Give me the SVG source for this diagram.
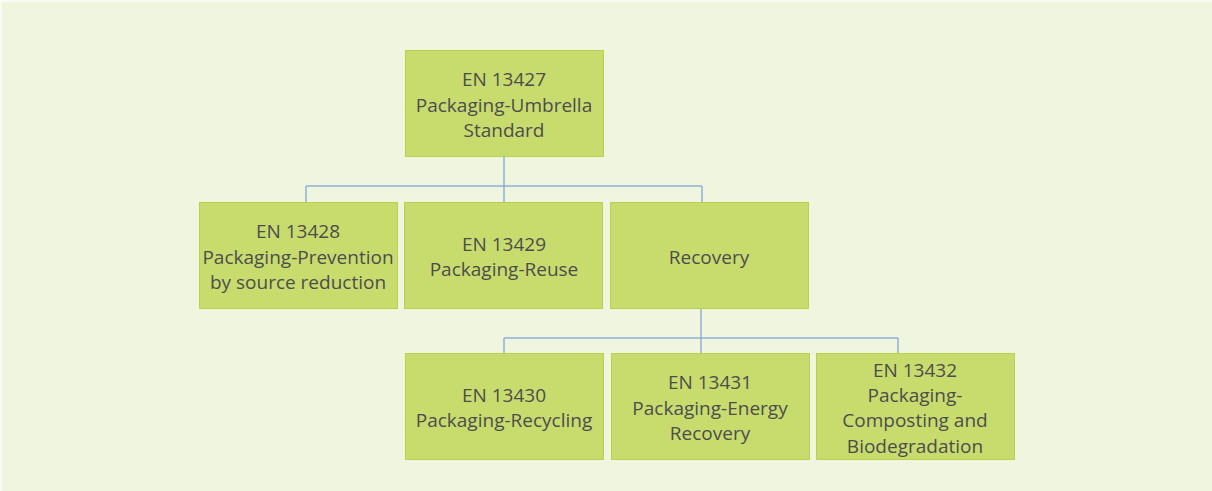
<svg xmlns="http://www.w3.org/2000/svg" width="1212" height="491" viewBox="0 0 1212 491">
<style>
.bg{fill:#eff5de}
.box{fill:#c8dc6e;stroke:#b9d24a;stroke-width:1}
.t{font-family:"Open Sans","Noto Sans",sans-serif;font-size:19px;fill:#4d4d4d;text-anchor:middle}
.c{stroke:#8fb1da;stroke-width:1.5;fill:none}
</style>
<rect width="1212" height="491" fill="#fafcf4"/>
<rect class="bg" x="2" y="2" width="1210" height="489"/>
<g id="connectors">
<path class="c" d="M504 157V186M306 186H702M306 186V202M504 186V202M702 186V202"/>
<path class="c" d="M701 308V338M504 338H898M504 338V353M701 338V353M898 338V353"/>
</g>
<g id="n13427"><rect class="box" x="405.5" y="50.5" width="198" height="106"/>
<text class="t" x="504" y="86">EN 13427</text><text class="t" x="504" y="112">Packaging-Umbrella</text><text class="t" x="504" y="137">Standard</text></g>
<g id="n13428"><rect class="box" x="199.5" y="202.5" width="198" height="106"/>
<text class="t" x="298" y="238">EN 13428</text><text class="t" x="298" y="264">Packaging-Prevention</text><text class="t" x="298" y="289">by source reduction</text></g>
<g id="n13429"><rect class="box" x="404.5" y="202.5" width="198" height="106"/>
<text class="t" x="504" y="251">EN 13429</text><text class="t" x="504" y="276">Packaging-Reuse</text></g>
<g id="recovery"><rect class="box" x="610.5" y="202.5" width="198" height="106"/>
<text class="t" x="709" y="264">Recovery</text></g>
<g id="n13430"><rect class="box" x="405.5" y="353.5" width="198" height="106"/>
<text class="t" x="504" y="402">EN 13430</text><text class="t" x="504" y="427">Packaging-Recycling</text></g>
<g id="n13431"><rect class="box" x="611.5" y="353.5" width="198" height="106"/>
<text class="t" x="710" y="389">EN 13431</text><text class="t" x="710" y="415">Packaging-Energy</text><text class="t" x="710" y="440">Recovery</text></g>
<g id="n13432"><rect class="box" x="816.5" y="353.5" width="198" height="106"/>
<text class="t" x="915" y="377">EN 13432</text><text class="t" x="915" y="402">Packaging-</text><text class="t" x="915" y="427">Composting and</text><text class="t" x="915" y="453">Biodegradation</text></g>
</svg>
